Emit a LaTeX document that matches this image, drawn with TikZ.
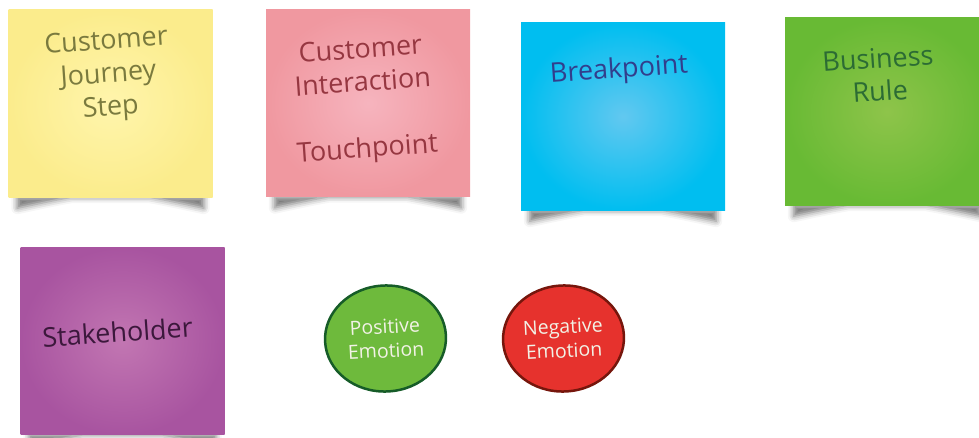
\documentclass[tikz,border=0pt]{standalone}
\usepackage{fontspec}
\setmainfont{Open Sans}
\usetikzlibrary{shapes.geometric, shadows.blur, backgrounds}
% Màu giấy ghi chú
\definecolor{yellowOut}{RGB}{251,236,140}
\definecolor{yellowIn}{RGB}{255,245,172}
\definecolor{yellowInk}{RGB}{122,122,62}
\definecolor{pinkOut}{RGB}{240,152,160}
\definecolor{pinkIn}{RGB}{246,180,190}
\definecolor{pinkInk}{RGB}{150,55,65}
\definecolor{blueOut}{RGB}{0,190,240}
\definecolor{blueIn}{RGB}{98,200,240}
\definecolor{blueInk}{RGB}{50,62,140}
\definecolor{greenOut}{RGB}{104,186,52}
\definecolor{greenIn}{RGB}{142,196,74}
\definecolor{greenInk}{RGB}{44,108,52}
\definecolor{purpleOut}{RGB}{168,84,160}
\definecolor{purpleIn}{RGB}{194,118,178}
\definecolor{purpleInk}{RGB}{60,24,60}
% Màu hai hình tròn cảm xúc
\definecolor{posFill}{RGB}{110,186,60}
\definecolor{posEdge}{RGB}{22,92,40}
\definecolor{negFill}{RGB}{230,50,45}
\definecolor{negEdge}{RGB}{118,22,12}
\definecolor{emoInk}{RGB}{242,242,230}
% Bóng cong dưới tờ giấy
\newcommand{\papercurl}[1]{%
  \path[blur shadow={shadow xshift=0pt, shadow yshift=0pt, shadow blur radius=6pt, shadow opacity=55}]
    ([xshift=9pt]#1.south west) -- ([xshift=9pt, yshift=-11pt]#1.south west)
    .. controls ([yshift=9pt]#1.south) .. ([xshift=-9pt, yshift=-11pt]#1.south east)
    -- ([xshift=-9pt]#1.south east) -- cycle;}
\begin{document}
\begin{tikzpicture}[x=1pt, y=1pt, line join=round, line cap=round,
    note/.style={rectangle, minimum width=204pt, minimum height=187pt, inner sep=0pt,
      inner color=#1In, outer color=#1Out},
    notetext/.style={align=center, inner sep=0pt, rotate=4,
      font=\fontsize{27}{33}\selectfont},
    emotion/.style={ellipse, minimum width=121pt, minimum height=106pt, inner sep=0pt,
      line width=2.5pt, fill=#1Fill, draw=#1Edge, text=emoInk, align=center, rotate=3,
      font=\fontsize{19.5}{24}\selectfont}]
  \useasboundingbox (0,0) rectangle (979,437);
  % Các tờ giấy ghi chú
  \node[note=yellow] (step) at (110.5,333.5) {};
  \node[note=pink] (touch) at (368,334) {};
  \node[note=blue] (brk) at (623,320.5) {};
  \node[note=green] (rule) at (887,325.5) {};
  \node[note=purple] (holder) at (122.5,96) {};
  % Bóng phía dưới
  \begin{scope}[on background layer]
    \foreach \n in {step, touch, brk, rule, holder} {\papercurl{\n}}
  \end{scope}
  % Chữ trên giấy
  \node[notetext, text=yellowInk] (step-t) at ([xshift=-2pt, yshift=-66pt]step.north) {Customer\\Journey\\Step};
  \node[notetext, text=pinkInk] (touch-t) at ([xshift=-4pt, yshift=-92pt]touch.north) {Customer\\Interaction\\\mbox{}\\Touchpoint};
  \node[notetext, text=blueInk] (brk-t) at ([xshift=-4pt, yshift=-48pt]brk.north) {Breakpoint};
  \node[notetext, text=greenInk] (rule-t) at ([xshift=-8pt, yshift=-57pt]rule.north) {Business\\Rule};
  \node[notetext, text=purpleInk] (holder-t) at ([xshift=-5pt, yshift=-85pt]holder.north) {Stakeholder};
  % Hai hình tròn cảm xúc
  \node[emotion=pos] (pos) at (385.5,98.5) {Positive\\Emotion};
  \node[emotion=neg] (neg) at (563.5,98.5) {Negative\\Emotion};
\end{tikzpicture}
\end{document}
